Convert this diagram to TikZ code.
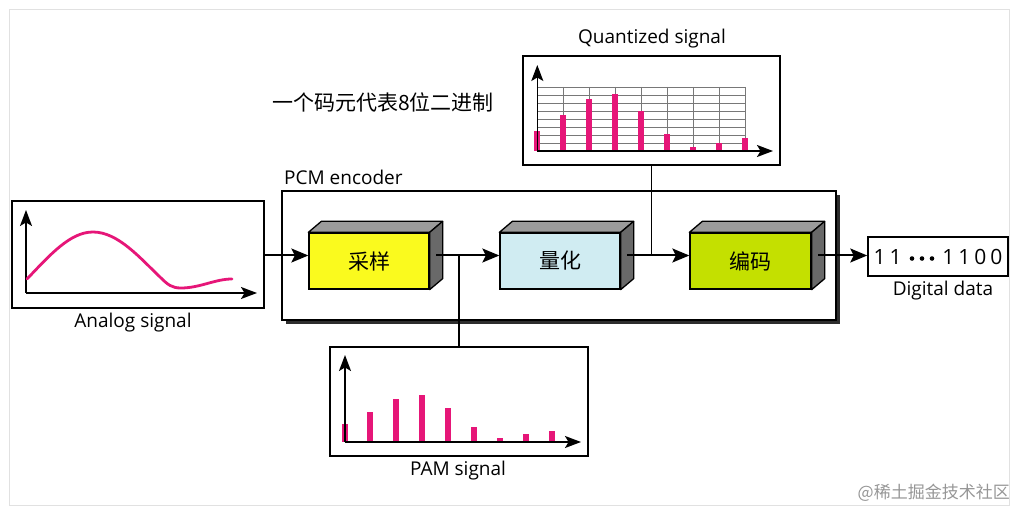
\documentclass[tikz,border=0pt]{standalone}
\usepackage{fontspec}
\setmainfont{Open Sans}
\newfontfamily\cjk{Noto Sans CJK SC}
\usetikzlibrary{arrows.meta,calc}
\definecolor{pinkbar}{RGB}{230,22,120}
\definecolor{sampcol}{RGB}{250,250,30}
\definecolor{quantcol}{RGB}{208,236,242}
\definecolor{enccol}{RGB}{196,224,0}
\definecolor{topgray}{RGB}{155,155,155}
\definecolor{sidegray}{RGB}{105,105,105}
\definecolor{gridgray}{RGB}{120,120,120}
\definecolor{framegray}{RGB}{225,225,225}
\definecolor{shadowgray}{RGB}{45,45,45}
\definecolor{wmgray}{RGB}{150,150,150}
\begin{document}
\begin{tikzpicture}[x=1pt,y=-1pt,
  panel/.style={draw=black, line width=1.5pt, fill=white, inner sep=0pt},
  lbl/.style={font=\fontsize{19}{22}\selectfont, inner sep=0pt},
  cube/.style={draw=black, line width=1.3pt, inner sep=0pt, minimum height=56pt,
     font=\cjk\fontsize{21}{23}\selectfont},
  conn/.style={line width=2pt, -{Stealth[length=17pt,width=14pt,inset=3.5pt]}},
  wire/.style={line width=1.7pt},
  axis/.style={line width=1.5pt, -{Stealth[length=16pt,width=12pt,inset=3.5pt]}},
  bar/.style={fill=pinkbar, draw=none},
  gridln/.style={draw=gridgray, line width=0.7pt}
]
\useasboundingbox (0,0) rectangle (1018,513);
\draw[framegray, line width=0.8pt] (9,9) rectangle (1009,505);

% top note
\node[font=\cjk\fontsize{21}{24}\selectfont, inner sep=0pt, anchor=west] (note) at (272,102) {一个码元代表8位二进制};

% PCM encoder frame with shadow
\fill[shadowgray] (286,195) rectangle (840,324);
\node[panel, minimum width=554pt, minimum height=129pt] (pcm) at (559,255.5) {};
\node[lbl, anchor=south west] (pcmlbl) at (284,185) {PCM encoder};

% analog signal panel
\node[panel, minimum width=252pt, minimum height=107pt] (analog) at (138,254.5) {};
\node[lbl] (analoglbl) at (133,323) {Analog signal};
\draw[axis] (26,293) -- (26,210);
\draw[axis] (26,293) -- (257,293);
\draw[pinkbar, line width=2.8pt, line cap=round]
  (27,279) .. controls (50,255) and (70,232) .. (93,232)
  .. controls (118,232) and (140,258) .. (160,277)
  .. controls (168,285) and (172,288) .. (181,288)
  .. controls (200,288) and (215,279) .. (232,279);

% quantized signal panel
\node[panel, minimum width=257pt, minimum height=109pt] (qpanel) at (651.5,110.5) {};
\node[lbl] (qlbl) at (652,39) {Quantized signal};
\foreach \k in {1,...,8} {
  \draw[gridln] (537,151-8*\k) -- (745.3,151-8*\k);
  \draw[gridln] (537.3+26*\k,87) -- (537.3+26*\k,151);
}
\foreach \k/\t in {0/130.7,1/115,2/99,3/94.3,4/110.7,5/134.3,6/146.7,7/142.7,8/138.3} {
  \fill[bar] (537.3+26*\k-3,151) rectangle (537.3+26*\k+3,\t);
}
\draw[axis] (537.3,151) -- (537.3,65);
\draw[axis] (537.3,151) -- (773,151);

% PAM signal panel
\node[panel, minimum width=258pt, minimum height=109pt] (pam) at (459,401.5) {};
\node[lbl] (pamlbl) at (458,471) {PAM signal};
\foreach \k/\t in {0/424.3,1/412,2/398.7,3/395.3,4/408.3,5/427.3,6/438.3,7/434.3,8/431} {
  \fill[bar] (344.5+25.9*\k-3,442) rectangle (344.5+25.9*\k+3,\t);
}
\draw[axis] (345,442) -- (345,355);
\draw[axis] (345,442) -- (581,442);

% digital data
\node[panel, minimum width=140pt, minimum height=39pt, font=\fontsize{21}{23}\selectfont] (digital) at (938,256.5)
  {1\hspace{4pt}1\hspace{8pt}\raisebox{5.5pt}{\tikz[baseline]{\foreach \i in {0,1,2} \fill (\i*10pt,0) circle (2.3pt);}}\hspace{8pt}1\hspace{4pt}1\hspace{4pt}0\hspace{4pt}0};
\node[lbl] (diglbl) at (943,291) {Digital data};

% 3D blocks
\node[cube, fill=sampcol, minimum width=120pt] (sample) at (369,261) {采样};
\node[cube, fill=quantcol, minimum width=120pt] (quant) at (560,261) {量化};
\node[cube, fill=enccol, minimum width=121pt] (encode) at (750.5,261) {编码};
\foreach \n in {sample,quant,encode} {
  \filldraw[fill=topgray, draw=black, line width=1.3pt, line join=round]
    (\n.north west) -- ($(\n.north west)+(13,-11)$) -- ($(\n.north east)+(13,-11)$) -- (\n.north east) -- cycle;
  \filldraw[fill=sidegray, draw=black, line width=1.3pt, line join=round]
    (\n.north east) -- ($(\n.north east)+(13,-11)$) -- ($(\n.south east)+(13,-11)$) -- (\n.south east) -- cycle;
}

% connectors
\coordinate (ly) at (0,255.5);
\draw[conn] (analog.east |- ly) -- (sample.west |- ly);
\draw[conn] ($(sample.east)+(6.5,-5.5)$) -- (quant.west |- ly);
\draw[conn] ($(quant.east)+(6.5,-5.5)$) -- (encode.west |- ly);
\draw[conn] ($(encode.east)+(6.5,-5.5)$) -- (digital.west |- ly);
\draw[wire] (pam.north |- ly) -- (pam.north);
\draw[wire] (qpanel.south |- ly) -- (qpanel.south);

% watermark
\node[font=\cjk\fontsize{17}{20}\selectfont, text=wmgray, inner sep=0pt, anchor=east] (wm) at (1010,493) {@稀土掘金技术社区};
\end{tikzpicture}
\end{document}
